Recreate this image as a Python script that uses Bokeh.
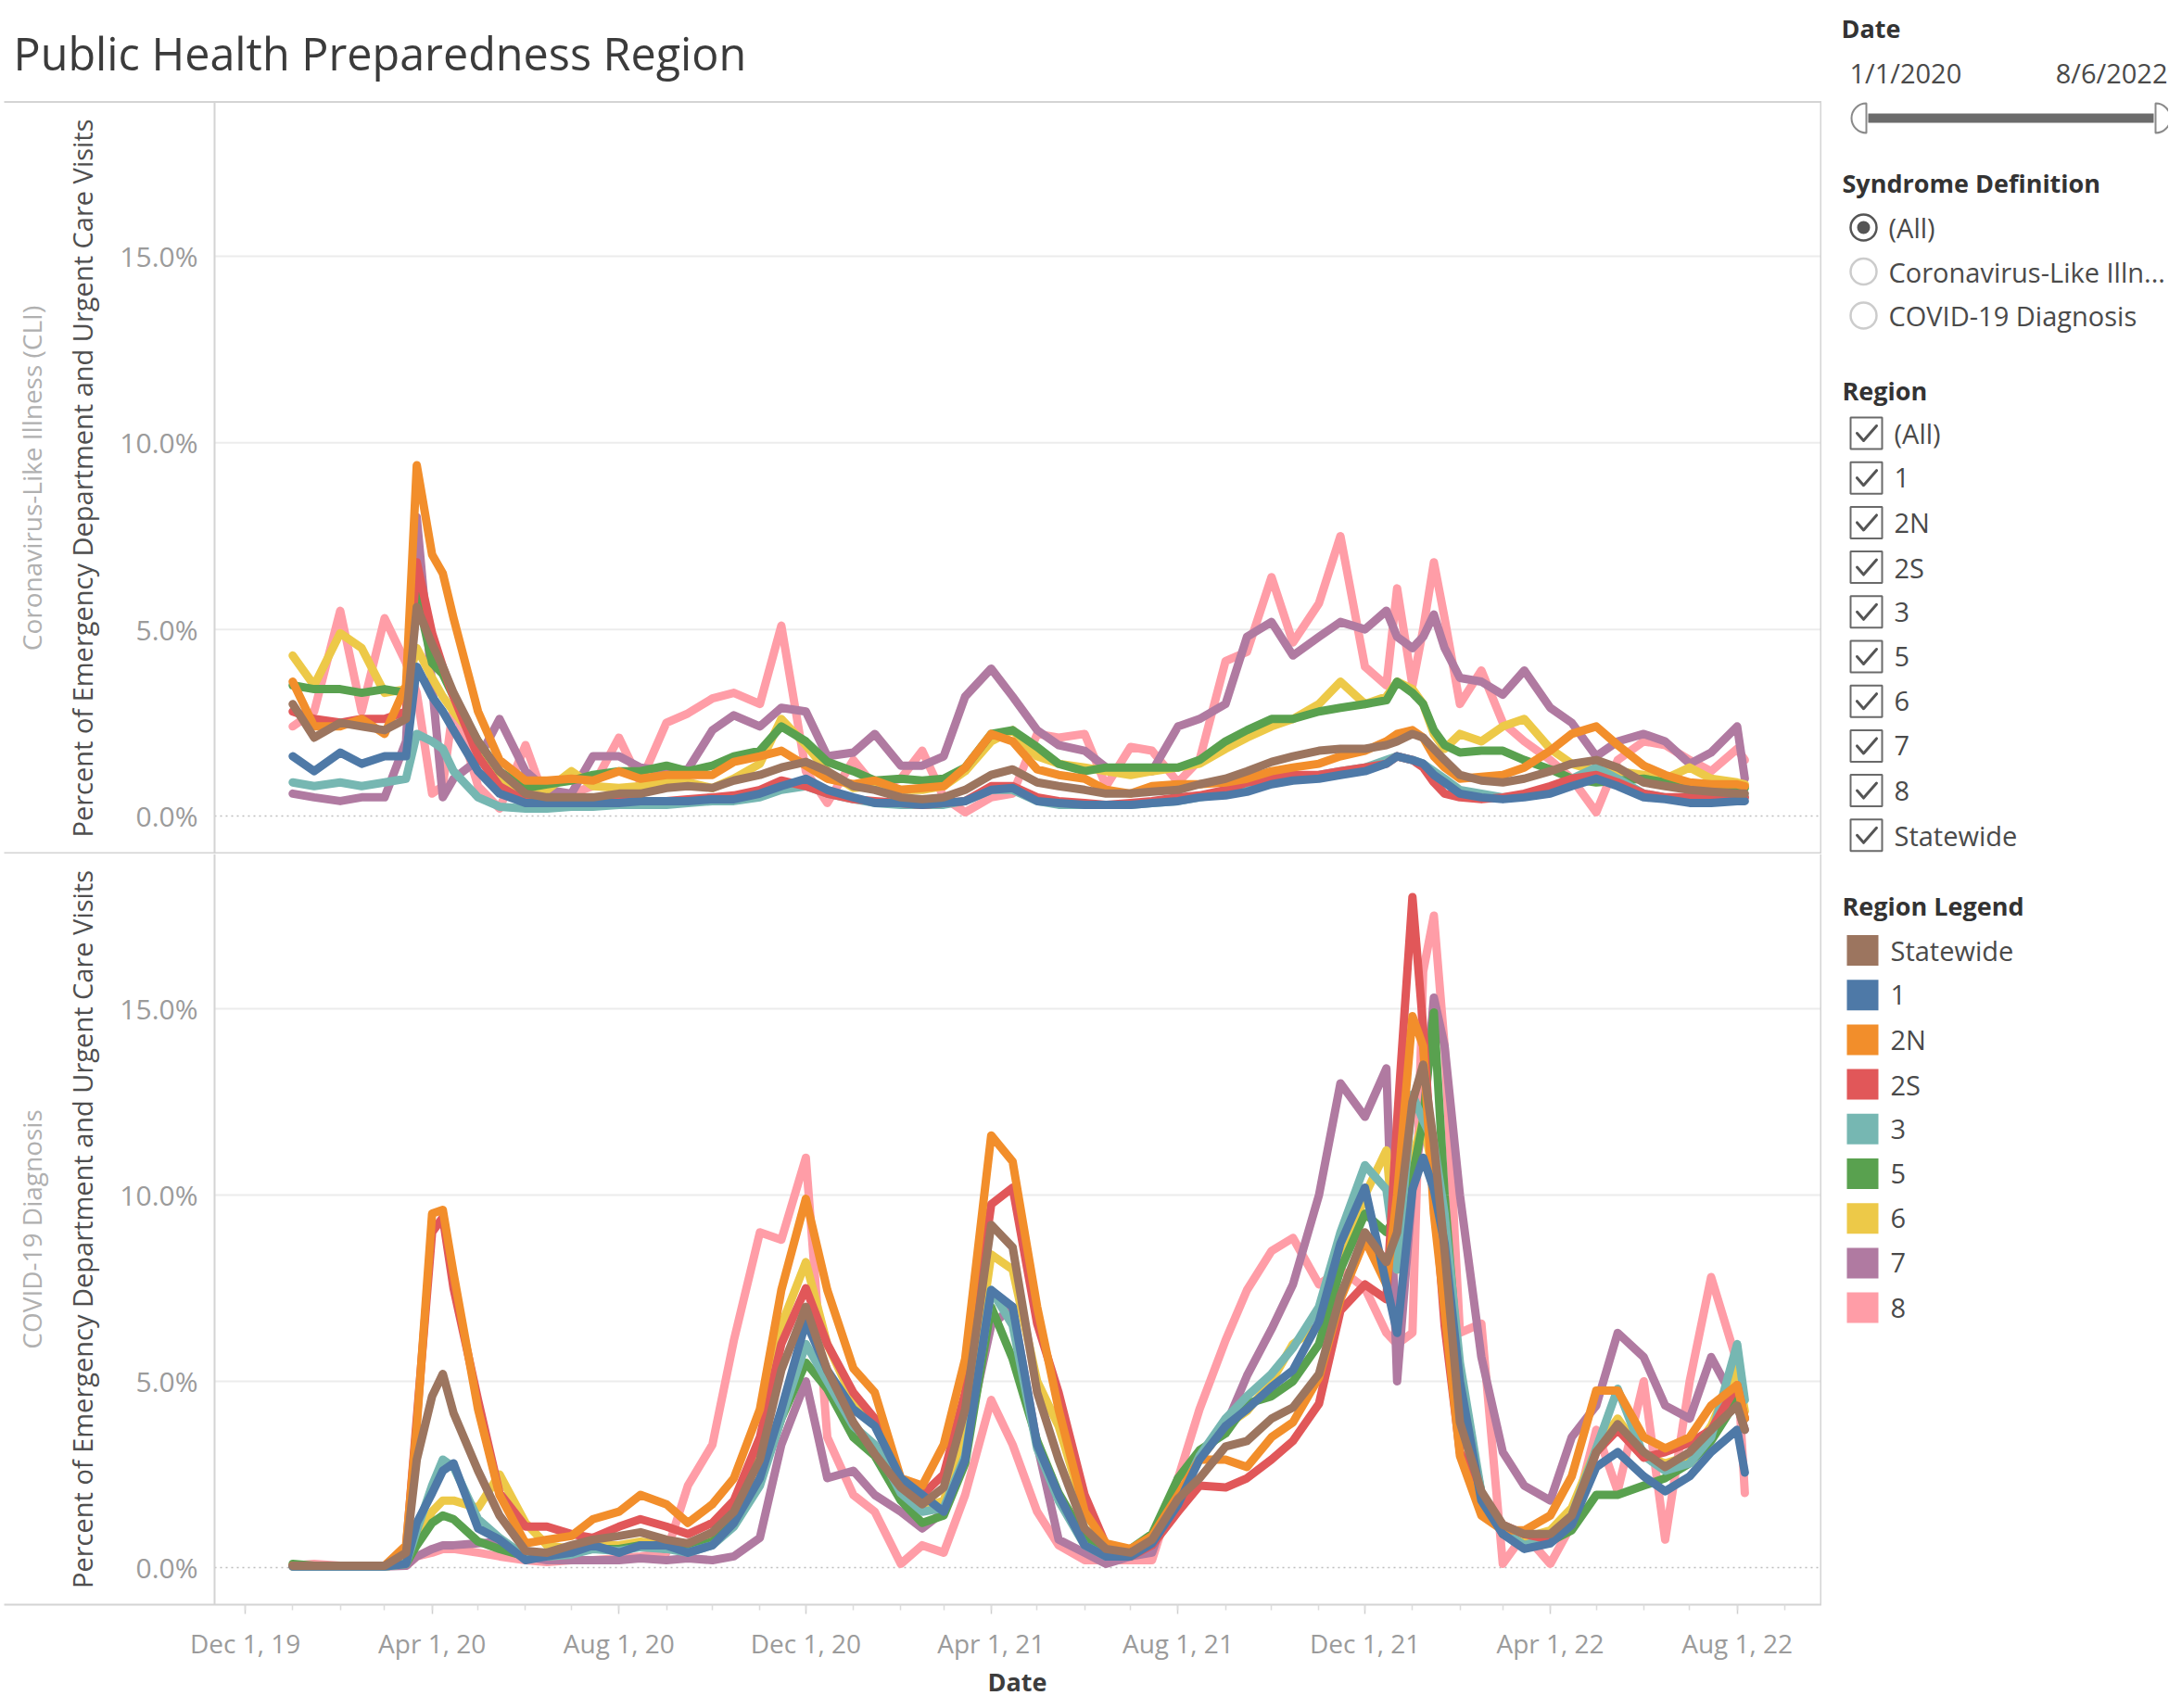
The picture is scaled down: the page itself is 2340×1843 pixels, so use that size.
import math
from datetime import datetime

from bokeh.core.properties import value
from bokeh.embed import file_html
from bokeh.layouts import column, row
from bokeh.models import (ColumnDataSource, DatetimeAxis, FixedTicker, LinearAxis,
                          PrintfTickFormatter, Range1d)
from bokeh.plotting import figure
from bokeh.resources import INLINE

TITLE = "Public Health Preparedness Region"
ROW_HEADERS = ["Coronavirus-Like Illness (CLI)", "COVID-19 Diagnosis"]
Y_LABEL = "Percent of Emergency Department and Urgent Care Visits"
X_LABEL = "Date"

DATES = (
    ["2020-01-01", "2020-01-15", "2020-02-01", "2020-02-15", "2020-03-01", "2020-03-15",
     "2020-03-22", "2020-04-01", "2020-04-08", "2020-04-15", "2020-05-01", "2020-05-15",
     "2020-06-01", "2020-06-15", "2020-07-01", "2020-07-15", "2020-08-01", "2020-08-15",
     "2020-09-01", "2020-09-15", "2020-10-01", "2020-10-15", "2020-11-01", "2020-11-15",
     "2020-12-01", "2020-12-15"]
    + ["2021-01-01", "2021-01-15", "2021-02-01", "2021-02-15", "2021-03-01", "2021-03-15",
       "2021-04-01", "2021-04-15", "2021-05-01", "2021-05-15", "2021-06-01", "2021-06-15",
       "2021-07-01", "2021-07-15", "2021-08-01", "2021-08-15", "2021-09-01", "2021-09-15",
       "2021-10-01", "2021-10-15", "2021-11-01", "2021-11-15", "2021-12-01", "2021-12-15",
       "2021-12-22"]
    + ["2022-01-01", "2022-01-08", "2022-01-15", "2022-01-22", "2022-02-01", "2022-02-15",
       "2022-03-01", "2022-03-15", "2022-04-01", "2022-04-15", "2022-05-01", "2022-05-15",
       "2022-06-01", "2022-06-15", "2022-07-01", "2022-07-15", "2022-08-01", "2022-08-06"]
)

REGIONS = ["Statewide", "1", "2N", "2S", "3", "5", "6", "7", "8"]
COLORS = ["#9C755F", "#4E79A7", "#F28E2B", "#E15759", "#76B7B2",
          "#59A14F", "#EDC948", "#B07AA1", "#FF9DA7"]

# ---- Coronavirus-Like Illness (CLI), percent of visits ----
CLI_STATEWIDE = ([3.0, 2.1, 2.5, 2.4, 2.3, 2.6, 5.6, 4.6, 4.0, 3.3, 2.0, 1.2, 0.6, 0.5, 0.5, 0.5, 0.6, 0.6, 0.75, 0.8, 0.75, 0.95, 1.1, 1.3, 1.45, 1.2]
                 + [0.8, 0.7, 0.5, 0.45, 0.5, 0.7, 1.1, 1.25, 0.9, 0.8, 0.7, 0.6, 0.6, 0.65, 0.7, 0.85, 1.0, 1.2, 1.45, 1.6, 1.75, 1.8, 1.8, 1.9, 2.0]
                 + [2.2, 2.1, 1.8, 1.5, 1.1, 0.95, 0.9, 1.0, 1.2, 1.4, 1.5, 1.3, 0.9, 0.8, 0.7, 0.65, 0.6, 0.6])
CLI_R1 = ([1.6, 1.2, 1.7, 1.4, 1.6, 1.6, 4.0, 3.2, 2.8, 2.3, 1.2, 0.6, 0.35, 0.35, 0.35, 0.35, 0.35, 0.4, 0.4, 0.4, 0.45, 0.45, 0.6, 0.8, 1.0, 0.7]
          + [0.5, 0.35, 0.35, 0.3, 0.35, 0.4, 0.7, 0.75, 0.4, 0.35, 0.3, 0.3, 0.3, 0.35, 0.4, 0.5, 0.55, 0.65, 0.85, 0.95, 1.0, 1.1, 1.2, 1.4, 1.6]
          + [1.5, 1.4, 1.1, 0.9, 0.6, 0.5, 0.45, 0.5, 0.6, 0.8, 1.0, 0.8, 0.5, 0.45, 0.35, 0.35, 0.4, 0.4])
CLI_R2N = ([3.6, 2.4, 2.4, 2.6, 2.2, 3.5, 9.4, 7.0, 6.5, 5.3, 2.8, 1.5, 0.95, 0.95, 1.0, 0.95, 1.2, 1.0, 1.1, 1.1, 1.1, 1.45, 1.6, 1.75, 1.35, 1.0]
           + [0.85, 0.95, 0.7, 0.75, 0.8, 1.3, 2.2, 2.0, 1.25, 1.1, 1.0, 0.7, 0.6, 0.8, 0.85, 0.85, 0.9, 1.0, 1.2, 1.3, 1.4, 1.6, 1.75, 2.0, 2.2]
           + [2.3, 2.1, 1.6, 1.3, 1.0, 1.05, 1.1, 1.3, 1.75, 2.2, 2.4, 1.9, 1.35, 1.1, 0.9, 0.85, 0.85, 0.8])
CLI_R2S = ([2.8, 2.6, 2.5, 2.6, 2.6, 2.8, 6.8, 4.9, 4.0, 3.2, 1.6, 0.8, 0.4, 0.35, 0.35, 0.35, 0.4, 0.4, 0.4, 0.45, 0.5, 0.55, 0.7, 0.95, 0.8, 0.6]
           + [0.45, 0.4, 0.35, 0.3, 0.35, 0.4, 0.8, 0.8, 0.5, 0.4, 0.35, 0.3, 0.35, 0.4, 0.5, 0.55, 0.7, 0.9, 1.0, 1.1, 1.1, 1.2, 1.3, 1.4, 1.6]
           + [1.5, 1.3, 0.9, 0.6, 0.5, 0.45, 0.5, 0.6, 0.8, 1.0, 1.1, 0.9, 0.6, 0.5, 0.5, 0.5, 0.5, 0.5])
CLI_R3 = ([0.9, 0.8, 0.9, 0.8, 0.9, 1.0, 2.2, 2.0, 1.8, 1.2, 0.5, 0.25, 0.2, 0.2, 0.25, 0.25, 0.3, 0.3, 0.3, 0.35, 0.4, 0.4, 0.5, 0.7, 0.8, 0.6]
          + [0.45, 0.35, 0.3, 0.3, 0.3, 0.4, 0.7, 0.7, 0.4, 0.3, 0.3, 0.3, 0.3, 0.35, 0.4, 0.5, 0.6, 0.7, 0.9, 1.0, 1.1, 1.2, 1.3, 1.5, 1.6]
          + [1.5, 1.4, 1.2, 1.0, 0.7, 0.6, 0.5, 0.55, 0.7, 1.0, 1.3, 1.0, 0.6, 0.5, 0.45, 0.45, 0.5, 0.5])
CLI_R5 = ([3.5, 3.4, 3.4, 3.3, 3.4, 3.3, 6.0, 4.1, 3.8, 3.2, 2.0, 1.2, 0.75, 0.85, 0.95, 1.1, 1.2, 1.2, 1.35, 1.2, 1.35, 1.6, 1.75, 2.4, 2.0, 1.45]
          + [1.2, 0.95, 1.0, 0.95, 1.0, 1.3, 2.2, 2.3, 1.85, 1.4, 1.2, 1.3, 1.3, 1.3, 1.3, 1.5, 2.0, 2.3, 2.6, 2.6, 2.8, 2.9, 3.0, 3.1, 3.6]
          + [3.3, 3.0, 2.3, 1.9, 1.7, 1.75, 1.75, 1.5, 1.25, 1.0, 0.9, 0.95, 1.0, 0.9, 0.85, 0.8, 0.75, 0.75])
CLI_R6 = ([4.3, 3.5, 4.9, 4.5, 3.3, 3.4, 4.5, 3.7, 3.2, 2.8, 2.0, 1.0, 0.6, 0.7, 1.2, 0.8, 0.75, 0.8, 0.95, 0.9, 0.75, 1.0, 1.4, 2.6, 1.9, 1.2]
          + [0.75, 0.8, 0.7, 0.7, 0.8, 1.2, 2.0, 2.3, 1.6, 1.4, 1.3, 1.2, 1.1, 1.2, 1.3, 1.4, 1.8, 2.1, 2.4, 2.6, 3.0, 3.6, 3.0, 3.2, 3.6]
          + [3.4, 3.0, 2.2, 1.8, 2.2, 2.0, 2.4, 2.6, 1.8, 1.4, 1.2, 1.2, 1.1, 1.0, 1.3, 1.0, 0.9, 0.85])
CLI_R7 = ([0.6, 0.5, 0.4, 0.5, 0.5, 2.0, 8.0, 3.5, 0.5, 1.0, 1.5, 2.6, 1.2, 0.7, 0.6, 1.6, 1.6, 1.3, 1.2, 1.25, 2.3, 2.7, 2.4, 2.9, 2.8, 1.6]
          + [1.7, 2.2, 1.35, 1.35, 1.6, 3.2, 3.95, 3.2, 2.3, 1.9, 1.75, 1.3, 1.2, 1.2, 2.4, 2.6, 3.0, 4.8, 5.2, 4.3, 4.8, 5.2, 5.0, 5.5, 4.8]
          + [4.5, 4.8, 5.4, 4.5, 3.7, 3.6, 3.25, 3.9, 2.9, 2.5, 1.6, 2.0, 2.2, 2.0, 1.4, 1.7, 2.4, 1.0])
CLI_R8 = ([2.4, 2.8, 5.5, 2.8, 5.3, 4.1, 3.3, 0.6, 0.8, 3.0, 0.8, 0.2, 1.9, 0.3, 0.6, 0.8, 2.1, 0.9, 2.5, 2.75, 3.15, 3.3, 3.0, 5.1, 1.2, 0.35]
          + [1.5, 0.8, 1.0, 1.75, 0.5, 0.1, 0.5, 0.6, 2.2, 2.1, 2.2, 0.8, 1.85, 1.75, 0.9, 1.5, 4.15, 4.4, 6.4, 4.65, 5.7, 7.5, 4.0, 3.5, 6.1]
          + [3.5, 5.0, 6.8, 5.3, 3.0, 3.9, 2.5, 2.0, 1.5, 1.0, 0.1, 1.5, 2.0, 1.9, 1.5, 1.2, 1.8, 1.5])

# ---- COVID-19 Diagnosis, percent of visits ----
COV_STATEWIDE = ([0.05, 0.05, 0.05, 0.05, 0.05, 0.4, 2.9, 4.6, 5.2, 4.15, 2.6, 1.4, 0.45, 0.4, 0.6, 0.75, 0.85, 0.95, 0.75, 0.65, 0.95, 1.5, 2.9, 5.3, 7.0, 5.3]
                 + [3.9, 3.05, 2.15, 1.7, 2.15, 4.25, 9.2, 8.6, 4.7, 2.9, 1.05, 0.5, 0.4, 0.75, 1.85, 2.4, 3.25, 3.4, 4.0, 4.3, 5.2, 7.3, 9.0, 8.2, 9.0]
                 + [12.5, 13.5, 11.4, 8.5, 3.9, 2.05, 1.15, 0.9, 0.9, 1.4, 3.1, 3.85, 3.1, 2.7, 3.1, 3.7, 4.35, 3.7])
COV_R1 = ([0.03, 0.03, 0.03, 0.03, 0.03, 0.1, 1.2, 2.0, 2.6, 2.8, 1.05, 0.75, 0.2, 0.3, 0.4, 0.6, 0.4, 0.6, 0.6, 0.4, 0.6, 1.2, 2.4, 4.25, 6.6, 5.3]
          + [4.25, 3.8, 2.4, 1.95, 1.5, 2.9, 7.45, 7.0, 3.3, 1.95, 0.6, 0.3, 0.3, 0.65, 1.7, 2.9, 3.8, 4.25, 4.85, 5.3, 6.6, 8.7, 10.2, 7.6, 6.3]
          + [10.15, 11.0, 10.15, 8.7, 5.0, 1.8, 0.9, 0.5, 0.65, 1.15, 2.7, 3.1, 2.45, 2.05, 2.45, 3.1, 3.7, 2.55])
COV_R2N = ([0.05, 0.05, 0.05, 0.05, 0.05, 0.6, 3.8, 9.5, 9.6, 7.9, 4.25, 1.95, 0.65, 0.75, 0.85, 1.3, 1.5, 1.95, 1.7, 1.2, 1.7, 2.4, 4.25, 7.45, 9.9, 7.45]
           + [5.35, 4.7, 2.4, 2.2, 3.3, 5.6, 11.6, 10.9, 7.0, 4.25, 1.5, 0.65, 0.5, 0.85, 1.95, 2.9, 2.9, 2.7, 3.5, 3.9, 5.1, 7.2, 8.8, 7.6, 10.0]
           + [14.8, 14.0, 9.5, 6.9, 3.0, 1.4, 1.0, 1.0, 1.4, 2.45, 4.75, 4.75, 3.5, 3.2, 3.5, 4.35, 4.9, 4.0])
COV_R2S = ([0.05, 0.05, 0.05, 0.05, 0.05, 0.5, 4.0, 9.0, 9.4, 7.5, 4.5, 2.0, 1.1, 1.1, 0.9, 0.8, 1.1, 1.3, 1.1, 0.9, 1.2, 1.8, 3.5, 6.0, 7.5, 6.0]
           + [4.7, 4.0, 2.4, 1.95, 2.5, 4.7, 9.75, 10.2, 6.55, 4.7, 1.95, 0.6, 0.3, 0.6, 1.5, 2.2, 2.15, 2.4, 2.9, 3.4, 4.4, 6.9, 7.6, 7.2, 12.0]
           + [18.0, 14.5, 10.2, 6.5, 3.1, 1.95, 1.15, 0.9, 0.75, 1.15, 3.1, 3.7, 2.95, 3.1, 3.35, 3.7, 4.9, 4.0])
COV_R3 = ([0.03, 0.03, 0.03, 0.03, 0.03, 0.1, 1.0, 2.2, 2.9, 2.7, 1.3, 0.8, 0.3, 0.3, 0.35, 0.5, 0.45, 0.55, 0.5, 0.4, 0.6, 1.1, 2.2, 4.0, 6.0, 5.0]
          + [3.8, 3.3, 2.0, 1.5, 1.6, 3.0, 7.45, 6.5, 3.2, 1.8, 0.6, 0.3, 0.3, 0.7, 1.8, 3.0, 4.0, 4.6, 5.2, 5.9, 7.0, 9.0, 10.8, 10.15, 8.0]
          + [12.7, 12.0, 11.4, 9.5, 5.5, 2.0, 1.0, 0.6, 0.8, 1.4, 3.2, 4.8, 3.0, 2.6, 2.8, 3.5, 6.0, 4.5])
COV_R5 = ([0.1, 0.05, 0.05, 0.05, 0.05, 0.1, 0.6, 1.2, 1.4, 1.3, 0.7, 0.5, 0.3, 0.3, 0.4, 0.5, 0.5, 0.6, 0.5, 0.5, 0.7, 1.2, 2.3, 4.0, 5.5, 4.8]
          + [3.5, 3.0, 1.8, 1.2, 1.4, 2.8, 7.0, 5.6, 3.4, 2.0, 0.8, 0.5, 0.5, 0.9, 2.4, 3.15, 3.6, 4.4, 4.6, 5.0, 6.0, 8.0, 9.5, 9.0, 9.5]
          + [10.5, 12.0, 14.9, 10.0, 5.0, 2.0, 0.9, 0.6, 0.7, 1.0, 1.95, 1.95, 2.2, 2.4, 2.8, 3.4, 4.5, 4.0])
COV_R6 = ([0.03, 0.03, 0.03, 0.03, 0.03, 0.1, 0.8, 1.5, 1.8, 1.8, 1.6, 2.5, 1.2, 0.6, 0.5, 0.6, 0.6, 0.7, 0.6, 0.5, 0.8, 1.3, 3.0, 6.5, 8.2, 6.0]
          + [4.5, 4.0, 2.2, 1.6, 1.8, 3.5, 8.4, 8.0, 5.0, 3.8, 1.5, 0.6, 0.4, 0.7, 1.9, 2.9, 3.8, 4.2, 5.0, 6.0, 6.5, 8.0, 10.0, 11.2, 8.0]
          + [11.0, 12.0, 10.5, 8.0, 4.0, 1.8, 1.0, 0.8, 1.0, 1.6, 3.2, 4.0, 3.0, 2.8, 3.0, 3.8, 5.4, 4.2])
COV_R7 = ([0.03, 0.03, 0.03, 0.03, 0.03, 0.05, 0.3, 0.5, 0.6, 0.6, 0.65, 0.7, 0.3, 0.2, 0.2, 0.2, 0.2, 0.25, 0.2, 0.25, 0.2, 0.3, 0.8, 3.3, 5.0, 2.4]
          + [2.6, 1.95, 1.5, 1.05, 1.5, 3.3, 6.5, 7.0, 3.3, 0.75, 0.4, 0.1, 0.3, 0.4, 2.4, 2.9, 3.8, 5.15, 6.4, 7.6, 10.0, 13.0, 12.1, 13.4, 5.0]
          + [10.15, 12.0, 15.3, 14.0, 10.0, 5.65, 3.1, 2.2, 1.8, 3.5, 4.35, 6.3, 5.65, 4.35, 4.0, 5.65, 4.35, 3.7])
COV_R8 = ([0.05, 0.1, 0.05, 0.05, 0.05, 0.05, 0.3, 0.4, 0.5, 0.5, 0.4, 0.3, 0.2, 0.15, 0.2, 0.2, 0.25, 0.3, 0.4, 2.2, 3.3, 6.1, 9.0, 8.8, 11.0, 3.5]
          + [1.95, 1.5, 0.1, 0.6, 0.4, 1.95, 4.5, 3.3, 1.5, 0.6, 0.2, 0.2, 0.2, 0.2, 2.4, 4.25, 6.1, 7.45, 8.5, 8.85, 7.6, 8.0, 7.5, 6.3, 6.0]
          + [6.3, 16.0, 17.5, 14.0, 6.3, 6.55, 0.1, 0.9, 0.1, 1.15, 3.7, 2.05, 5.0, 0.75, 5.0, 7.8, 5.5, 2.0])

CLI_SERIES = [CLI_STATEWIDE, CLI_R1, CLI_R2N, CLI_R2S, CLI_R3, CLI_R5, CLI_R6, CLI_R7, CLI_R8]
COV_SERIES = [COV_STATEWIDE, COV_R1, COV_R2N, COV_R2S, COV_R3, COV_R5, COV_R6, COV_R7, COV_R8]

Y_TICKS = [0, 5, 10, 15]
TICK_DATES = ["2019-12-01", "2020-04-01", "2020-08-01", "2020-12-01", "2021-04-01",
              "2021-08-01", "2021-12-01", "2022-04-01", "2022-08-01"]
TICK_LABELS = ["Dec 1, 19", "Apr 1, 20", "Aug 1, 20", "Dec 1, 20", "Apr 1, 21",
               "Aug 1, 21", "Dec 1, 21", "Apr 1, 22", "Aug 1, 22"]

# sidebar (filter cards)
DATE_FILTER = ["1/1/2020", "8/6/2022"]
SYNDROME_OPTIONS = ["(All)", "Coronavirus-Like Illn...", "COVID-19 Diagnosis"]
REGION_FILTER = ["(All)", "1", "2N", "2S", "3", "5", "6", "7", "8", "Statewide"]

FONT = "Open Sans"
EPOCH = datetime(1970, 1, 1)


def to_dt(s):
    return datetime.strptime(s, "%Y-%m-%d")


def to_ms(d):
    return (d - EPOCH).total_seconds() * 1000.0


X = [to_dt(s) for s in DATES]

# ---------------- page geometry (pixels) ----------------
PAGE_W, PAGE_H = 2339, 1842
LEFT_W = 1965                 # width of the chart column
PLOT_L, PLOT_R = 231, 1965    # plotting area (x)
PANE_TOP = 110                # top border of the first pane
PANE_SPLIT = 921              # border between the panes
PANE_BOTTOM = 1731            # bottom border of the second pane
TOP_ZERO, TOP_PPU = 880.0, 40.27
BOT_ZERO, BOT_PPU = 1691.0, 40.2

X_START = datetime(2019, 11, 11)
X_END = datetime(2022, 9, 25, 7)
span = X_END - X_START
X0 = X_START - span * (PLOT_L / (PLOT_R - PLOT_L))   # date at the page's left edge

tick_ms = [to_ms(to_dt(s)) for s in TICK_DATES]
minor_ms = []
yy, mm = 2019, 12
while (yy, mm) <= (2022, 9):
    minor_ms.append(to_ms(datetime(yy, mm, 1)))
    mm += 1
    if mm == 13:
        yy, mm = yy + 1, 1

GRID_C = "#d4d4d4"
LINE_W = 9


def make_panel(series, header, fig_top, fig_bottom, zero_px, ppu, pane_top, pane_bottom, show_x):
    h = fig_bottom - fig_top
    val = lambda y_px: (zero_px - y_px) / ppu
    p = figure(width=LEFT_W, height=h, x_axis_type="datetime",
               x_range=Range1d(X0, X_END), y_range=Range1d(val(fig_bottom), val(fig_top)),
               output_backend="svg", toolbar_location=None, min_border=0,
               min_border_left=0, min_border_right=0, min_border_top=0, min_border_bottom=0,
               x_axis_location=None, y_axis_location=None)
    p.extra_x_ranges = {"px": Range1d(0, LEFT_W)}
    p.extra_y_ranges = {"px": Range1d(fig_bottom, fig_top)}
    p.background_fill_color = "white"
    p.border_fill_color = "white"
    p.outline_line_color = None
    p.grid.visible = False

    # horizontal grid lines and dotted zero line across the plotting area
    gvals = [t for t in Y_TICKS if t > 0]
    p.segment(x0=[X_START] * len(gvals), y0=gvals, x1=[X_END] * len(gvals), y1=gvals,
              line_color="#ececec", line_width=2)
    p.segment(x0=[X_START], y0=[0], x1=[X_END], y1=[0], line_color="#bdbdbd",
              line_width=1.5, line_dash="2 4")

    # vertical axis pinned to the left edge of the plotting area
    ya = LinearAxis(fixed_location=to_ms(X_START), bounds=(val(pane_bottom), val(pane_top)))
    ya.ticker = FixedTicker(ticks=Y_TICKS)
    ya.formatter = PrintfTickFormatter(format="%.1f%%")
    ya.axis_line_color = GRID_C
    ya.axis_line_width = 2
    ya.major_tick_in = 0
    ya.major_tick_out = 0
    ya.major_tick_line_color = None
    ya.minor_tick_line_color = None
    ya.major_label_text_color = "#9b9b9b"
    ya.major_label_text_font = FONT
    ya.major_label_text_font_size = "30px"
    ya.major_label_standoff = 18
    ya.axis_label = Y_LABEL
    ya.axis_label_text_font = FONT
    ya.axis_label_text_font_size = "29px"
    ya.axis_label_text_font_style = "normal"
    ya.axis_label_text_color = "#4f4f4f"
    ya.axis_label_standoff = 18
    p.add_layout(ya, "left")

    if show_x:
        xa = DatetimeAxis(fixed_location=val(pane_bottom))
        xa.ticker = FixedTicker(ticks=tick_ms, minor_ticks=minor_ms)
        xa.major_label_overrides = {t: lab for t, lab in zip(tick_ms, TICK_LABELS)}
        xa.axis_line_color = None
        xa.major_tick_in = 0
        xa.major_tick_out = 10
        xa.minor_tick_in = 0
        xa.minor_tick_out = 6
        xa.major_tick_line_color = "#cfcfcf"
        xa.minor_tick_line_color = "#dcdcdc"
        xa.major_tick_line_width = 1.5
        xa.minor_tick_line_width = 1.5
        xa.major_label_text_color = "#9b9b9b"
        xa.major_label_text_font = FONT
        xa.major_label_text_font_size = "28px"
        xa.major_label_standoff = 12
        p.add_layout(xa, "below")
        p.text(x=[(PLOT_L + PLOT_R) / 2 - 1], y=[1814], text=[X_LABEL],
               x_range_name="px", y_range_name="px", text_font=value(FONT),
               text_font_size="27px", text_font_style="bold", text_color="#3d3d3d",
               text_align="center", text_baseline="middle")

    for name, color, vals in reversed(list(zip(REGIONS, COLORS, series))):
        src = ColumnDataSource(dict(x=X[:len(vals)], y=vals))
        p.line("x", "y", source=src, line_width=LINE_W, line_color=color,
               line_join="round", line_cap="round")

    # pane header (row label)
    p.text(x=[33], y=[(pane_top + pane_bottom) / 2], text=[header], angle=math.pi / 2,
           x_range_name="px", y_range_name="px", text_font=value(FONT),
           text_font_size="28px", text_color="#b0b0b0",
           text_align="center", text_baseline="middle")
    return p


top_p = make_panel(CLI_SERIES, ROW_HEADERS[0], 0, PANE_SPLIT, TOP_ZERO, TOP_PPU,
                   PANE_TOP, PANE_SPLIT, False)
bot_p = make_panel(COV_SERIES, ROW_HEADERS[1], PANE_SPLIT, PAGE_H, BOT_ZERO, BOT_PPU,
                   PANE_SPLIT, PANE_BOTTOM, True)

# title and pane borders (pixel space)
top_p.text(x=[14], y=[56], text=[TITLE], x_range_name="px", y_range_name="px",
           text_font=value(FONT), text_font_size="48.5px", text_color="#3b3b3b",
           text_align="left", text_baseline="middle")
top_p.segment(x0=[4, 4, LEFT_W - 1], y0=[PANE_TOP - 0.5, PANE_SPLIT - 1, PANE_TOP],
              x1=[LEFT_W, LEFT_W, LEFT_W - 1], y1=[PANE_TOP - 0.5, PANE_SPLIT - 1, PANE_SPLIT],
              x_range_name="px", y_range_name="px", line_color=GRID_C, line_width=2)
bot_p.segment(x0=[4, LEFT_W - 1], y0=[PANE_BOTTOM, PANE_SPLIT], x1=[LEFT_W, LEFT_W - 1],
              y1=[PANE_BOTTOM, PANE_BOTTOM], x_range_name="px", y_range_name="px",
              line_color=GRID_C, line_width=2)

# ---------------- sidebar with filter cards and colour legend ----------------
SW = PAGE_W - LEFT_W
s = figure(width=SW, height=PAGE_H, x_range=Range1d(LEFT_W, PAGE_W), y_range=Range1d(PAGE_H, 0),
           output_backend="svg", toolbar_location=None, min_border=0,
           x_axis_location=None, y_axis_location=None)
s.grid.visible = False
s.outline_line_color = None
s.background_fill_color = "white"
s.border_fill_color = "white"

HEAD = dict(text_font=value(FONT), text_font_size="27px", text_font_style="bold",
            text_color="#333333", text_baseline="middle", text_align="left")
ITEM = dict(text_font=value(FONT), text_font_size="29px", text_color="#4a4a4a",
            text_baseline="middle")

s.text(x=[1986, 1987, 1987, 1987], y=[30, 197, 421, 977],
       text=["Date", "Syndrome Definition", "Region", "Region Legend"], **HEAD)

# date range slider
s.text(x=[1995], y=[78], text=[DATE_FILTER[0]], text_align="left", **ITEM)
s.text(x=[2338], y=[78], text=[DATE_FILTER[1]], text_align="right", **ITEM)
s.segment(x0=[2015], y0=[127], x1=[2323], y1=[127], line_width=10, line_color="#6b6b6b")
s.wedge(x=[2013, 2325], y=[127, 127], radius=16, start_angle=[math.pi / 2, -math.pi / 2],
        end_angle=[3 * math.pi / 2, math.pi / 2], fill_color="white",
        line_color="#8a8a8a", line_width=2)

# syndrome radio buttons
ry = [245 + 47.5 * i for i in range(len(SYNDROME_OPTIONS))]
s.circle(x=[2010] * len(ry), y=ry, radius=14, fill_color="white",
         line_color=["#555555"] + ["#cccccc"] * (len(ry) - 1), line_width=2.5)
s.circle(x=[2010], y=[ry[0]], radius=7, fill_color="#555555", line_color=None)
s.text(x=[2037] * len(ry), y=ry, text=SYNDROME_OPTIONS, text_align="left", **ITEM)

# region check boxes
cy = [467 + 48.2 * i for i in range(len(REGION_FILTER))]
s.rect(x=[2013] * len(cy), y=cy, width=34, height=34, fill_color="white",
       line_color="#6a6a6a", line_width=2)
s.multi_line(xs=[[2003, 2010, 2024] for _ in cy], ys=[[c, c + 8, c - 8] for c in cy],
             line_color="#555555", line_width=3, line_join="round", line_cap="round")
s.text(x=[2043] * len(cy), y=cy, text=REGION_FILTER, text_align="left", **ITEM)

# colour legend
ly = [1025 + 48.2 * i for i in range(len(REGIONS))]
s.rect(x=[2009] * len(ly), y=ly, width=34, height=33, fill_color=COLORS, line_color=None)
s.text(x=[2039] * len(ly), y=ly, text=REGIONS, text_align="left", **ITEM)

layout = row(column(top_p, bot_p), s)
open("out.html", "w").write(file_html(layout, INLINE))
